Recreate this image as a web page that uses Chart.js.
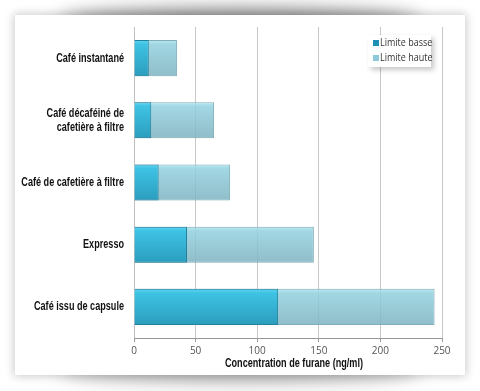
<!DOCTYPE html>
<html lang="fr">
<head>
    <meta charset="UTF-8">
    <title>Concentration de furane</title>
    <style>
        body {
            margin: 0;
            padding: 0;
            background-color: #ffffff;
            width: 480px;
            height: 391px;
            overflow: hidden;
        }
        .shade {
            position: absolute;
            left: 60px;
            width: 360px;
            height: 24px;
            border-radius: 50%;
            filter: blur(9px);
        }
        .shade.top { top: 8px; background: rgba(0, 0, 0, 0.45); }
        .shade.bottom { top: 358px; background: rgba(0, 0, 0, 0.32); }
        .card {
            position: absolute;
            left: 15px;
            top: 15px;
            width: 450px;
            height: 360px;
            background-color: #ffffff;
            box-shadow: 0 0 9px 1px rgba(0, 0, 0, 0.22);
        }
        canvas {
            display: block;
        }
    </style>
</head>
<body>
    <div class="shade top"></div>
    <div class="shade bottom"></div>
    <div class="card">
        <canvas id="myChart" width="450" height="360"></canvas>
    </div>
    <script src="https://cdn.jsdelivr.net/npm/chart.js"></script>
    <script>
        const categories = [
            'Café instantané',
            ['Café décaféiné de', 'cafetière à filtre'],
            'Café de cafetière à filtre',
            'Expresso',
            'Café issu de capsule'
        ];
        const limiteBasse = [12, 14, 20, 43, 117];
        const limiteHaute = [35, 65, 78, 146, 244];
        const xTicks = [0, 50, 100, 150, 200, 250];
        const xTitle = 'Concentration de furane (ng/ml)';

        const boldFont = "bold 13px 'Liberation Sans', Arial, sans-serif";
        const squeeze = 0.7;

        // condensed bold labels (category names + axis title)
        const narrowLabels = {
            id: 'narrowLabels',
            afterDraw(chart) {
                const ctx = chart.ctx;
                const yScale = chart.scales.y;
                const xScale = chart.scales.x;
                ctx.save();
                ctx.font = boldFont;
                ctx.fillStyle = '#111111';
                ctx.textBaseline = 'middle';
                ctx.textAlign = 'right';
                categories.forEach((cat, i) => {
                    const lines = Array.isArray(cat) ? cat : [cat];
                    const cy = yScale.getPixelForValue(i);
                    lines.forEach((line, j) => {
                        const ly = cy + (j - (lines.length - 1) / 2) * 14;
                        ctx.save();
                        ctx.translate(yScale.right - 10, ly);
                        ctx.scale(squeeze, 1);
                        ctx.fillText(line, 0, 0);
                        ctx.restore();
                    });
                });
                ctx.textAlign = 'center';
                ctx.save();
                ctx.translate((xScale.left + xScale.right) / 2 + 6, xScale.bottom - 12);
                ctx.scale(squeeze, 1);
                ctx.fillText(xTitle, 0, 0);
                ctx.restore();
                ctx.restore();
            }
        };

        // little legend box drawn inside the plot, top right
        const boxLegend = {
            id: 'boxLegend',
            afterDraw(chart) {
                const ctx = chart.ctx;
                const x = 353, y = 20, w = 63, h = 32;
                ctx.save();
                ctx.shadowColor = 'rgba(0,0,0,0.22)';
                ctx.shadowBlur = 5;
                ctx.shadowOffsetX = 3;
                ctx.shadowOffsetY = 3;
                ctx.fillStyle = '#ffffff';
                ctx.fillRect(x, y, w, h);
                ctx.restore();

                ctx.save();
                ctx.font = "10px 'Open Sans', sans-serif";
                ctx.textBaseline = 'middle';
                chart.data.datasets.forEach((ds, i) => {
                    const cy = y + 8 + i * 15;
                    ctx.fillStyle = ds.legendColor;
                    ctx.fillRect(x + 5, cy - 3, 6, 6);
                    ctx.fillStyle = '#333333';
                    ctx.save();
                    ctx.translate(x + 12, cy);
                    ctx.scale(0.9, 1);
                    ctx.fillText(ds.label, 0, 0);
                    ctx.restore();
                });
                ctx.restore();
            }
        };

        function barGradient(context, top, mid, bottom) {
            const chart = context.chart;
            const yScale = chart.scales.y;
            if (!yScale || context.dataIndex === undefined) return mid;
            const cy = yScale.getPixelForValue(context.dataIndex);
            const half = (yScale.height / categories.length) * 0.58 / 2;
            if (!isFinite(cy) || !half) return mid;
            const g = chart.ctx.createLinearGradient(0, cy - half, 0, cy + half);
            g.addColorStop(0, top);
            g.addColorStop(0.12, mid);
            g.addColorStop(1, bottom);
            return g;
        }

        const ctx = document.getElementById('myChart').getContext('2d');
        new Chart(ctx, {
            type: 'bar',
            data: {
                labels: categories,
                datasets: [{
                    label: 'Limite basse',
                    data: limiteBasse,
                    backgroundColor: c => barGradient(c, '#5fd4f0', '#3ec2e4', '#2b9dbd'),
                    borderColor: '#22809b',
                    borderWidth: 1,
                    legendColor: '#1f8fb5',
                    order: 0
                }, {
                    label: 'Limite haute',
                    data: limiteHaute,
                    backgroundColor: c => barGradient(c, 'rgba(180,232,242,0.9)', 'rgba(145,208,222,0.85)', 'rgba(124,178,192,0.85)'),
                    borderColor: 'rgba(115, 165, 178, 0.9)',
                    borderWidth: 1,
                    legendColor: '#8cc9da',
                    order: 1
                }]
            },
            options: {
                indexAxis: 'y',
                responsive: false,
                animation: false,
                layout: {
                    padding: { top: 12, right: 23, left: 0, bottom: 0 }
                },
                categoryPercentage: 1,
                barPercentage: 0.58,
                plugins: {
                    legend: { display: false },
                    tooltip: { enabled: false }
                },
                scales: {
                    y: {
                        stacked: true,
                        grid: { display: false },
                        border: { display: true, color: '#c0c0c0' },
                        ticks: { display: false },
                        afterFit(scale) { scale.width = 119; }
                    },
                    x: {
                        min: 0,
                        max: 250,
                        afterBuildTicks(scale) {
                            scale.ticks = xTicks.map(v => ({ value: v }));
                        },
                        grid: {
                            color: '#c8c8c8',
                            tickLength: 4,
                            tickColor: '#999999'
                        },
                        border: { display: true, color: '#999999' },
                        ticks: {
                            color: '#555555',
                            padding: 3,
                            font: { family: "'Open Sans', sans-serif", size: 10 }
                        },
                        afterFit(scale) { scale.height = 37; }
                    }
                }
            },
            plugins: [narrowLabels, boxLegend]
        });
    </script>
</body>
</html>
